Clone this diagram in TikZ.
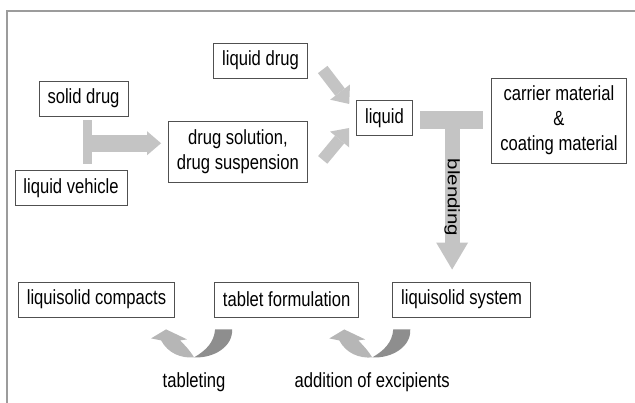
\documentclass[tikz,border=0pt]{standalone}
\usepackage{fontspec}
\setmainfont[FakeStretch=0.81]{Liberation Sans}
\newfontfamily\blendfont{Liberation Sans}
\usetikzlibrary{positioning, arrows.meta, calc}
\definecolor{boxstroke}{HTML}{505050}
\definecolor{arrowfill}{HTML}{C4C4C4}
\definecolor{curvelight}{HTML}{B6B6B6}
\definecolor{curvedark}{HTML}{8E8E8E}
\definecolor{framegray}{HTML}{9C9C9C}

\begin{document}
\begin{tikzpicture}[
  x=1pt, y=1pt,
  font=\fontsize{20.5}{25}\selectfont,
  box/.style={rectangle, draw=boxstroke, line width=0.8pt, fill=white,
              minimum height=35pt, inner xsep=8.5pt, inner ysep=8pt,
              align=center},
  fatarrow/.style={draw=arrowfill, line width=12pt,
                   -{Triangle[length=15pt, width=25pt, line width=0pt]}},
  bar/.style={draw=arrowfill},
  steplabel/.style={inner sep=0pt},
  frame/.style={draw=framegray, line width=1.5pt},
  turnarrow/.pic={
    \fill[curvelight] (-53,-23) .. controls (-46,-36) and (-33,-41) .. (-20,-40)
      .. controls (-25,-32) and (-30,-27) .. (-34,-23) -- (-27,-22)
      -- (-48,-12) -- (-63,-21) -- cycle;
    \fill[curvedark] (18,-12) .. controls (19,-29) and (0,-41) .. (-20,-40)
      .. controls (-8,-33) and (0,-25) .. (1,-12) -- cycle;
    \coordinate (-bottom) at (-20,-40);
  }
]
\useasboundingbox (0,0) rectangle (635,403);
\draw[frame] (7,0) -- (7,392) -- (635,392);

% Starting materials (top half).
\node[box] (soliddrug) at (83.5,304.5) {solid drug};
\node[box] (liqveh)    at (71,215)     {liquid vehicle};
\node[box] (liqdrug)   at (260.5,342.5) {liquid drug};
\node[box, below=43pt of liqdrug.south east, anchor=north east] (drugsol)
  {drug solution,\\ drug suspension};
\node[box] (liquid)    at (384.5,285)  {liquid};
\node[box] (carrier)   at (559,282.5)  {carrier material\\ \&\\ coating material};

% Products (bottom row, right to left in process order).
\node[box] (compacts) at (96.5,103.5) {liquisolid compacts};
\node[box, right=39pt of compacts] (tabform) {tablet formulation};
\node[box, right=33pt of tabform]  (lsystem) {liquisolid system};

% solid drug + liquid vehicle -> drug solution
\draw[bar, line width=9pt, shorten <=4pt, shorten >=6pt]
  ([xshift=4pt]soliddrug.south) -- coordinate[midway] (mixjoin)
  ([xshift=4pt]soliddrug.south |- liqveh.north);
\draw[fatarrow, line width=17pt,
      -{Triangle[length=14pt, width=24pt, line width=0pt]}, shorten >=7pt]
  (mixjoin) -- (mixjoin -| drugsol.west);

% both liquids merge
\draw[fatarrow] ([xshift=15pt,yshift=-9pt]liqdrug.east)
  -- ([xshift=-7pt,yshift=14pt]liquid.west);
\draw[fatarrow] ([xshift=15pt,yshift=-8pt]drugsol.east)
  -- ([xshift=-7pt,yshift=-10pt]liquid.west);

% blending with carrier and coating material
\draw[bar, line width=18pt, shorten <=7pt, shorten >=8pt]
  ([yshift=-2pt]liquid.east) -- coordinate[midway] (blendjoin)
  ([yshift=-2pt]liquid.east -| carrier.west);
\draw[fatarrow, line width=15pt,
      -{Triangle[length=27pt, width=32pt, line width=0pt]}, shorten >=12pt]
  (blendjoin) -- node[pos=0.48, rotate=-90, inner sep=0pt] (blendlabel)
  {\blendfont\scalebox{1}[0.81]{blending}} (blendjoin |- lsystem.north);

% curved steps between the bottom boxes
\pic (exturn)  at (lsystem.south west) {turnarrow};
\pic (tabturn) at (tabform.south west) {turnarrow};
\node[steplabel, below=15pt of tabturn-bottom] (tableting) {tableting};
\node[steplabel, below=15pt of exturn-bottom]  (excipients) {addition of excipients};

\end{tikzpicture}
\end{document}
